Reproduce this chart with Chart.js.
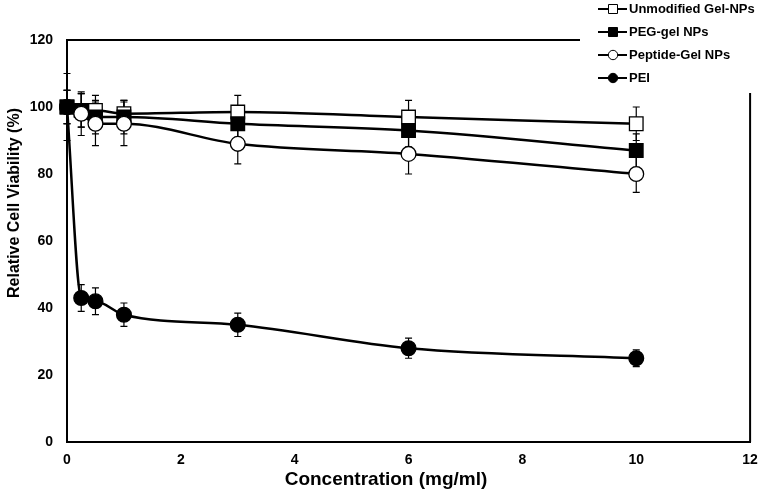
<!DOCTYPE html>
<html><head><meta charset="utf-8">
<script src="https://cdn.jsdelivr.net/npm/chart.js@4"></script>
<style>html,body{margin:0;padding:0;background:#fff}#wrap{width:761px;height:494px}</style>
</head><body><div id="wrap"><canvas id="c" width="761" height="494"></canvas></div>
<script>
const concentrations = [0, 0.25, 0.5, 1, 3, 6, 10];
const seriesNames = ["Unmodified Gel-NPs", "PEG-gel NPs", "Peptide-Gel NPs", "PEI"];
const unmodified = [100, 99, 99, 98, 98.5, 97, 95];
const unmodifiedErr = [5, 5, 4.5, 4, 5, 5, 5];
const pegGel = [100, 99, 97, 97, 95, 93, 87];
const pegGelErr = [5, 5, 5, 5, 5, 5, 5];
const peptideGel = [100, 98, 95, 95, 89, 86, 80];
const peptideGelErr = [5, 6.5, 6.5, 6.5, 6, 6, 5.5];
const pei = [100, 43, 42, 38, 35, 28, 25];
const peiErr = [10, 4, 4, 3.5, 3.5, 3, 2.5];
const xTicks = [0, 2, 4, 6, 8, 10, 12];
const yTicks = [0, 20, 40, 60, 80, 100, 120];
const xTitle = "Concentration (mg/ml)";
const yTitle = "Relative Cell Viability (%)";

const FONT = "'Liberation Sans', Arial, sans-serif";
function pts(vals){ return vals.map((v,i)=>({x:concentrations[i], y:v})); }

const styles = [
  {ps:'rect', bg:'#fff', r:9.6},
  {ps:'rect', bg:'#000', r:9.6},
  {ps:'circle', bg:'#fff', r:7.4},
  {ps:'circle', bg:'#000', r:7.4}
];
const vals = [unmodified, pegGel, peptideGel, pei];
const errs = [unmodifiedErr, pegGelErr, peptideGelErr, peiErr];

const datasets = vals.map((v,i)=>({
  label: seriesNames[i],
  data: pts(v),
  errors: errs[i],
  order: 3 - i,
  clip: false,
  borderColor:'#000', borderWidth:2.5,
  pointStyle: styles[i].ps, pointRadius: styles[i].r, pointHoverRadius: styles[i].r,
  pointBackgroundColor: styles[i].bg, pointBorderColor:'#000', pointBorderWidth:1.3,
  cubicInterpolationMode:'monotone', fill:false
}));

const errorBars = {
  id:'errorBars',
  beforeDatasetsDraw(chart){
    const {ctx, scales:{x,y}} = chart;
    ctx.save(); ctx.strokeStyle='#000'; ctx.lineWidth=1.2;
    chart.data.datasets.forEach(ds=>{
      ds.data.forEach((p,i)=>{
        const e = ds.errors[i]; const px = x.getPixelForValue(p.x);
        const y1 = y.getPixelForValue(p.y+e), y2 = y.getPixelForValue(p.y-e);
        ctx.beginPath(); ctx.moveTo(px,y1); ctx.lineTo(px,y2);
        ctx.moveTo(px-3.5,y1); ctx.lineTo(px+3.5,y1);
        ctx.moveTo(px-3.5,y2); ctx.lineTo(px+3.5,y2); ctx.stroke();
      });
    });
    ctx.restore();
  }
};

const frame = {
  id:'frame',
  afterDraw(chart){
    const {ctx, chartArea:a} = chart;
    ctx.save(); ctx.strokeStyle='#000'; ctx.lineWidth=2;
    ctx.beginPath(); ctx.moveTo(a.left, a.top); ctx.lineTo(580, a.top);
    ctx.moveTo(a.right, 93); ctx.lineTo(a.right, a.bottom); ctx.stroke();
    // axis titles
    ctx.fillStyle='#000'; ctx.textAlign='center'; ctx.textBaseline='middle';
    ctx.font = "bold 19px " + FONT;
    ctx.fillText(xTitle, 386, 480);
    ctx.font = "bold 16px " + FONT;
    ctx.save(); ctx.translate(15, 203); ctx.rotate(-Math.PI/2);
    ctx.fillText(yTitle, 0, 0); ctx.restore();
    // legend
    const ly = [9, 32, 55, 78];
    ctx.textAlign='left';
    ctx.font = "bold 13px " + FONT;
    chart.data.datasets.forEach((ds,i)=>{
      const yy = ly[i];
      ctx.lineWidth=2; ctx.strokeStyle='#000';
      ctx.beginPath(); ctx.moveTo(598,yy); ctx.lineTo(627,yy); ctx.stroke();
      ctx.lineWidth=1; ctx.fillStyle=styles[i].bg;
      ctx.beginPath();
      if(styles[i].ps==='rect'){ ctx.rect(608.5,yy-4.5,9,9); }
      else { ctx.arc(613,yy,4.7,0,Math.PI*2); }
      ctx.fill(); ctx.stroke();
      ctx.fillStyle='#000';
      ctx.fillText(ds.label, 629, yy+0.5);
    });
    ctx.restore();
  }
};

new Chart(document.getElementById('c'), {
  type:'line',
  data:{datasets},
  options:{
    responsive:false, animation:false, devicePixelRatio:1,
    layout:{padding:{top:40, right:0, left:0, bottom:0}},
    plugins:{legend:{display:false}, tooltip:{enabled:false}},
    scales:{
      x:{type:'linear', min:0, max:12,
        afterBuildTicks(s){ s.ticks = xTicks.map(v=>({value:v})); },
        afterFit(s){ s.height = 52; s.paddingLeft = 0; s.paddingRight = 8; },
        grid:{display:false, drawTicks:true, tickLength:5, tickColor:'#000'},
        border:{display:true, color:'#000', width:2},
        ticks:{color:'#000', font:{family:FONT, size:14, weight:'bold'}, padding:5, maxRotation:0}
      },
      y:{type:'linear', min:0, max:120,
        afterBuildTicks(s){ s.ticks = yTicks.map(v=>({value:v})); },
        afterFit(s){ s.width = 67; s.paddingTop = 0; s.paddingBottom = 0; },
        grid:{display:false, drawTicks:true, tickLength:5, tickColor:'#000'},
        border:{display:true, color:'#000', width:2},
        ticks:{color:'#000', font:{family:FONT, size:14, weight:'bold'}, padding:9}
      }
    }
  },
  plugins:[errorBars, frame]
});
</script></body></html>
